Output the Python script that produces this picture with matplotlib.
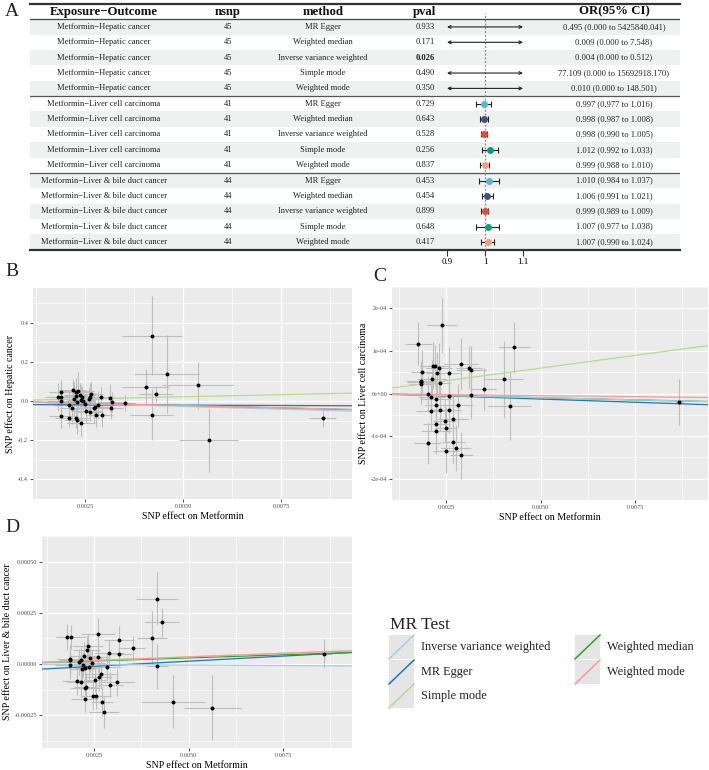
import numpy as np
import matplotlib.pyplot as plt
from matplotlib.patches import Rectangle

plt.rcParams['font.family'] = ['Liberation Serif', 'DejaVu Serif']

W, H = 709, 770

# ---- panel A: MR results table ----
outcomes = (['Metformin\u2212Hepatic cancer'] * 5
            + ['Metformin\u2212Liver cell carcinoma'] * 5
            + ['Metformin\u2212Liver & bile duct cancer'] * 5)
nsnp = [45] * 5 + [41] * 5 + [44] * 5
methods = ['MR Egger', 'Weighted median', 'Inverse variance weighted',
           'Simple mode', 'Weighted mode'] * 3
pvals = ['0.933', '0.171', '0.026', '0.490', '0.350',
         '0.729', '0.643', '0.528', '0.256', '0.837',
         '0.453', '0.454', '0.899', '0.648', '0.417']
or_val = [0.495, 0.009, 0.004, 77.109, 0.010,
          0.997, 0.998, 0.998, 1.012, 0.999,
          1.010, 1.006, 0.999, 1.007, 1.007]
or_lo = [0.000, 0.000, 0.000, 0.000, 0.000,
         0.977, 0.987, 0.990, 0.992, 0.988,
         0.984, 0.991, 0.989, 0.977, 0.990]
or_hi = [5425840.041, 7.548, 0.512, 15692918.170, 148.501,
         1.016, 1.008, 1.005, 1.033, 1.010,
         1.037, 1.021, 1.009, 1.038, 1.024]

forest_cols = {'MR Egger': '#4DBBD5', 'Weighted median': '#3C5488',
               'Inverse variance weighted': '#E64B35', 'Simple mode': '#00A087',
               'Weighted mode': '#F39B7F'}

# ---- scatter panels ----
line_cols = {'Inverse variance weighted': '#A6CEE3', 'MR Egger': '#1F78B4',
             'Simple mode': '#B2DF8A', 'Weighted median': '#33A02C',
             'Weighted mode': '#FB9A99'}

# B: Hepatic cancer
bx = [0.00182, 0.00189, 0.00189, 0.00189, 0.00189, 0.00208, 0.0021, 0.00216, 0.00218, 0.00222,
      0.00226, 0.00227, 0.00233, 0.00229, 0.00226, 0.00229, 0.00237, 0.0024, 0.00243, 0.00239,
      0.00253, 0.00262, 0.00263, 0.00265, 0.00273, 0.00276, 0.00279, 0.00284, 0.00291, 0.00292,
      0.00313, 0.00319, 0.00317, 0.00352, 0.0025, 0.00259, 0.00245, 0.0042, 0.00458, 0.00405,
      0.0043, 0.0042, 0.00537, 0.00565, 0.00856]
by = [0.02, 0.048, 0.023, 0.0, -0.078, -0.085, -0.02, -0.038, 0.054, 0.008,
      0.026, 0.046, 0.049, -0.005, -0.088, -0.097, 0.031, 0.003, 0.023, -0.11,
      -0.05, -0.054, 0.02, 0.038, -0.034, -0.03, -0.072, -0.02, 0.02, -0.072,
      0.018, -0.005, -0.034, -0.011, -0.015, 0.008, 0.002, 0.334, 0.137, 0.072,
      0.035, -0.069, 0.08, -0.2, -0.085]
bsx = [0.00035, 0.0003, 0.0004, 0.00035, 0.0003, 0.00035, 0.0004, 0.0003, 0.00035, 0.0004,
       0.0003, 0.00035, 0.0004, 0.0003, 0.00035, 0.0003, 0.0004, 0.00035, 0.0003, 0.00035,
       0.0004, 0.0003, 0.00035, 0.0003, 0.0004, 0.00035, 0.0003, 0.0004, 0.00035, 0.0003,
       0.0003, 0.00035, 0.0003, 0.00025, 0.0003, 0.00035, 0.0003, 0.00077, 0.00083, 0.0006,
       0.00045, 0.00055, 0.0009, 0.00075, 0.00035]
bsy = [0.07, 0.06, 0.08, 0.1, 0.06, 0.05, 0.07, 0.08, 0.06, 0.09,
       0.05, 0.07, 0.1, 0.06, 0.05, 0.07, 0.06, 0.08, 0.05, 0.07,
       0.06, 0.05, 0.07, 0.06, 0.08, 0.05, 0.06, 0.07, 0.05, 0.06,
       0.07, 0.05, 0.06, 0.04, 0.05, 0.06, 0.05, 0.2, 0.2, 0.09,
       0.04, 0.13, 0.12, 0.16, 0.045]
b_or = [0.495, 0.009, 0.004, 77.109, 0.010]
b_egger_int = -0.0175

# C: Liver cell carcinoma
cx = [0.00239, 0.00177, 0.0043, 0.00186, 0.00183, 0.00183, 0.00183, 0.00216, 0.00221, 0.00231,
      0.00227, 0.00212, 0.00259, 0.00289, 0.00311, 0.00315, 0.00404, 0.0035, 0.00203, 0.00211,
      0.00223, 0.00259, 0.00317, 0.00224, 0.00211, 0.00234, 0.00259, 0.00281, 0.00418, 0.00246,
      0.00269, 0.00223, 0.0025, 0.00223, 0.00201, 0.00269, 0.00276, 0.0025, 0.0029, 0.00867,
      0.00234]
cy = [1.60e-4, 1.17e-4, 1.09e-4, 5.1e-5, 3.0e-5, 2.6e-5, 2.2e-5, 6.5e-5, 6.5e-5, 5.9e-5,
      4.8e-5, 3.3e-5, 4.9e-5, 7.0e-5, 6.1e-5, 5.6e-5, 3.3e-5, 1.1e-5, 0.0, -9e-6,
      -1.3e-5, -6.5e-6, -4e-6, -2.8e-5, -4.1e-5, -3.8e-5, -3.8e-5, -2.8e-5, -2.9e-5, -6.4e-5,
      -5.9e-5, -7.2e-5, -8.2e-5, -8.8e-5, -1.16e-4, -1.14e-4, -1.28e-4, -1.36e-4, -1.45e-4, -2.0e-5,
      2.4e-5]
csx = [0.0004, 0.00035, 0.00042, 0.0003, 0.0004, 0.00035, 0.0003, 0.0003, 0.0004, 0.00035,
       0.0003, 0.0004, 0.0003, 0.00045, 0.00035, 0.0004, 0.0005, 0.00033, 0.0003, 0.00035,
       0.0004, 0.0003, 0.0004, 0.0003, 0.0004, 0.00035, 0.0003, 0.0004, 0.00057, 0.0003,
       0.0004, 0.00035, 0.0003, 0.0004, 0.00035, 0.0003, 0.0004, 0.00035, 0.0003, 0.0001,
       0.0003]
csy = [6.5e-5, 5e-5, 6e-5, 5e-5, 4e-5, 5e-5, 4.5e-5, 5.5e-5, 5e-5, 6e-5,
       5e-5, 4.5e-5, 6e-5, 6e-5, 5e-5, 5.5e-5, 9e-5, 5e-5, 4e-5, 5e-5,
       4.5e-5, 6e-5, 5.5e-5, 5e-5, 4.5e-5, 5e-5, 5.5e-5, 5e-5, 8e-5, 5e-5,
       5.5e-5, 4.5e-5, 5e-5, 5.5e-5, 5e-5, 5e-5, 5.5e-5, 5e-5, 5.5e-5, 5.3e-5,
       4e-5]
c_or = [0.997, 0.998, 0.998, 1.012, 0.999]
c_egger_int = 2e-6

# D: Liver & bile duct cancer
dx = [0.00417, 0.00429, 0.00403, 0.00352, 0.00316, 0.00316, 0.0029, 0.00261, 0.00261, 0.00233,
      0.0023, 0.0024, 0.00223, 0.00215, 0.0021, 0.00179, 0.00188, 0.00186, 0.00186, 0.00186,
      0.00219, 0.00226, 0.00237, 0.00283, 0.00417, 0.00269, 0.00262, 0.00252, 0.00205, 0.00214,
      0.00228, 0.00226, 0.00292, 0.00311, 0.00247, 0.00254, 0.00225, 0.00271, 0.00277, 0.00458,
      0.00563, 0.0086, 0.00221, 0.00244]
dy = [3.19e-4, 2.03e-4, 1.29e-4, 7.8e-5, 1.16e-4, 5.0e-5, 5.3e-5, 1.46e-4, 3.2e-5, 8.8e-5,
      6.9e-5, 2.8e-5, 3.7e-5, 2.2e-5, 1.0e-5, 1.32e-4, 1.31e-4, 2.5e-5, 1.9e-5, -7e-6,
      -2.6e-5, -1.9e-5, -1.5e-5, -1.5e-5, -1.0e-5, -5.1e-5, -6.3e-5, -7.6e-5, -8.4e-5, -9.0e-5,
      -1.1e-4, -1.16e-4, -1.01e-4, -9.0e-5, -1.54e-4, -1.54e-4, -1.72e-4, -1.84e-4, -2.35e-4, -1.84e-4,
      -2.13e-4, 5.1e-5, -3e-6, 3e-6]
dsx = [0.00055, 0.00045, 0.0004, 0.00033, 0.0004, 0.00035, 0.0004, 0.00045, 0.0003, 0.0004,
       0.00035, 0.0003, 0.0004, 0.0003, 0.00035, 0.0003, 0.0004, 0.00035, 0.0003, 0.0004,
       0.00035, 0.0003, 0.0004, 0.00035, 0.0003, 0.0004, 0.00035, 0.0003, 0.0004, 0.00035,
       0.0003, 0.0004, 0.00035, 0.00045, 0.0003, 0.0004, 0.00035, 0.0003, 0.0004, 0.00085,
       0.00075, 0.0002, 0.0003, 0.00035]
dsy = [1.3e-4, 7e-5, 1.3e-4, 6e-5, 7e-5, 6e-5, 6.5e-5, 8e-5, 7e-5, 6e-5,
       7e-5, 6.5e-5, 7e-5, 6e-5, 6.5e-5, 6.5e-5, 6e-5, 7e-5, 6e-5, 6.5e-5,
       7e-5, 6e-5, 6.5e-5, 7e-5, 1.1e-4, 6.5e-5, 7e-5, 6e-5, 6.5e-5, 7e-5,
       6.5e-5, 7e-5, 6e-5, 6.5e-5, 7e-5, 6.5e-5, 6e-5, 7e-5, 7.5e-5, 1.3e-4,
       1.6e-4, 7e-5, 6e-5, 6.5e-5]
d_or = [1.010, 1.006, 0.999, 1.007, 1.007]
d_egger_int = -3.6e-5

mr_methods = ['MR Egger', 'Weighted median', 'Inverse variance weighted', 'Simple mode', 'Weighted mode']
legend_order = ['Inverse variance weighted', 'MR Egger', 'Simple mode', 'Weighted median', 'Weighted mode']

fig = plt.figure(figsize=(W / 100, H / 100), dpi=100)


def px_axes(left, top, right, bottom, **kw):
    return fig.add_axes([left / W, 1 - bottom / H, (right - left) / W, (bottom - top) / H], **kw)


# ---------- table ----------
TL, TR, TT, TB = 30, 680, 3.9, 249.7
tab = px_axes(TL, TT, TR, TB)
tab.set_xlim(TL, TR)
tab.set_ylim(15.5, -0.5)
tab.axis('off')

for k in range(1, 16):
    if k % 2 == 1:
        tab.add_patch(Rectangle((TL, k - 0.5), TR - TL, 1, color='#EDF2F0', lw=0, zorder=0))

tab.axhline(-0.5, color='#333333', lw=1.6, clip_on=False)
tab.axhline(0.5, color='#444444', lw=0.9)
tab.axhline(5.5, color='#555555', lw=0.9)
tab.axhline(10.5, color='#555555', lw=0.9)
tab.axhline(15.5, color='#333333', lw=1.6, clip_on=False)

col_x = {'out': 104, 'nsnp': 228, 'method': 323, 'pval': 425, 'or': 614}
hdr = dict(fontsize=9.2, fontweight='bold', ha='center', va='center', color='#111111')
tab.text(col_x['out'], 0, 'Exposure\u2212Outcome', **hdr)
tab.text(col_x['nsnp'], 0, 'nsnp', **hdr)
tab.text(col_x['method'], 0, 'method', **hdr)
tab.text(col_x['pval'], 0, 'pval', **hdr)
tab.text(col_x['or'], 0, 'OR(95% CI)', **hdr)

body = dict(fontsize=6.1, ha='center', va='center', color='#222222')
for i in range(15):
    r = i + 1
    tab.text(col_x['out'], r, outcomes[i], **body)
    tab.text(col_x['nsnp'], r, str(nsnp[i]), **body)
    tab.text(col_x['method'], r, methods[i], **body)
    bold = 'bold' if float(pvals[i]) < 0.05 else 'normal'
    tab.text(col_x['pval'], r, pvals[i], fontweight=bold, **body)
    tab.text(col_x['or'], r, '%.3f (%.3f to %.3f)' % (or_val[i], or_lo[i], or_hi[i]), **body)

# ---------- forest column ----------
fo = px_axes(447, TT, 523, TB)
fo.patch.set_alpha(0)
fo.set_xlim(0.9, 1.1)
fo.set_ylim(15.5, -0.5)
for s in ['top', 'left', 'right', 'bottom']:
    fo.spines[s].set_visible(False)
fo.set_yticks([])
fo.set_xticks([0.9, 1.0, 1.1])
fo.set_xticklabels(['0.9', '1', '1.1'])
fo.tick_params(axis='x', length=4, width=0.8, color='#333333', labelsize=6.5, pad=2)
fo.axvline(1, ymin=0, ymax=1 - 0.6 / 16, color='#888888', lw=0.9, ls=(0, (1.5, 1.5)), zorder=1)

xmin, xmax = 0.9, 1.1
for i in range(15):
    r = i + 1
    if or_hi[i] < xmin or or_lo[i] > xmax:
        continue
    lo, hi = max(or_lo[i], xmin), min(or_hi[i], xmax)
    if or_lo[i] < xmin or or_hi[i] > xmax:
        style = ('<' if or_lo[i] < xmin else '-') + '-' + ('>' if or_hi[i] > xmax else '')
        fo.annotate('', xy=(hi, r), xytext=(lo, r),
                    arrowprops=dict(arrowstyle='<->' if style == '<->' else style.replace('--', '-'),
                                    color='#222222', lw=0.8, mutation_scale=5, shrinkA=0, shrinkB=0))
    else:
        fo.errorbar(or_val[i], r, xerr=[[or_val[i] - lo], [hi - or_val[i]]], fmt='none',
                    ecolor='#222222', elinewidth=0.8, capsize=2, capthick=0.8, zorder=2)
    if xmin <= or_val[i] <= xmax:
        fo.plot(or_val[i], r, 'o', color=forest_cols[methods[i]], ms=5, mec='none', zorder=3)


# ---------- scatter panels ----------
def mr_panel(ax, x, y, sx, sy, ors, egger_int, ylab, yticks, yticklabels, xlim, ylim):
    ax.set_facecolor('#EBEBEB')
    ax.set_axisbelow(True)
    ax.errorbar(x, y, xerr=sx, yerr=sy, fmt='none', ecolor='#BEBEBE', elinewidth=0.8, zorder=2)
    ax.scatter(x, y, s=8, color='black', zorder=4, linewidths=0)
    xs = np.array(xlim)
    for m, o in zip(mr_methods, ors):
        b = np.log(o)
        a = egger_int if m == 'MR Egger' else 0.0
        ax.plot(xs, a + b * xs, color=line_cols[m], lw=0.9, zorder=3)
    ax.set_xlim(xlim)
    ax.set_ylim(ylim)
    xt = [0.0025, 0.0050, 0.0075]
    ax.set_xticks(xt)
    ax.set_xticklabels(['0.0025', '0.0050', '0.0075'])
    ax.set_xticks([0.00125, 0.00375, 0.00625, 0.00875], minor=True)
    ax.set_yticks(yticks)
    ax.set_yticklabels(yticklabels)
    step = yticks[1] - yticks[0]
    ax.set_yticks([t + step / 2 for t in [yticks[0] - step] + list(yticks)], minor=True)
    ax.grid(which='major', color='white', lw=0.9)
    ax.grid(which='minor', color='white', lw=0.45)
    for s in ax.spines.values():
        s.set_visible(False)
    ax.tick_params(which='major', labelsize=4.5, length=2, width=0.6, color='#333333',
                   labelcolor='#4D4D4D', pad=1.5)
    ax.tick_params(which='minor', length=0)
    ax.set_xlabel('SNP effect on Metformin', fontsize=7.2, labelpad=2)
    ax.set_ylabel(ylab, fontsize=7.2, labelpad=2)


axB = px_axes(33, 288, 352, 499)
mr_panel(axB, bx, by, bsx, bsy, b_or, b_egger_int, 'SNP effect on Hepatic cancer',
         [-0.4, -0.2, 0.0, 0.2, 0.4], ['-0.4', '-0.2', '0.0', '0.2', '0.4'],
         (0.00117, 0.00931), (-0.405, 0.577))

axC = px_axes(392, 287, 708, 500)
mr_panel(axC, cx, cy, csx, csy, c_or, c_egger_int, 'SNP effect on Liver cell carcinoma',
         [-2e-4, -1e-4, 0.0, 1e-4, 2e-4], ['-2e-04', '-1e-04', '0e+00', '1e-04', '2e-04'],
         (0.00107, 0.00943), (-2.2e-4, 2.43e-4))

axD = px_axes(42, 536, 352, 748)
mr_panel(axD, dx, dy, dsx, dsy, d_or, d_egger_int, 'SNP effect on Liver & bile duct cancer',
         [-0.00025, 0.0, 0.00025, 0.0005], ['-0.00025', '0.00000', '0.00025', '0.00050'],
         (0.00112, 0.00933), (-0.00041, 0.000522))

# ---------- legend ----------
lg = px_axes(380, 610, 709, 715)
lg.set_xlim(380, 709)
lg.set_ylim(715, 610)
lg.axis('off')
lg.text(390, 625, 'MR Test', fontsize=12.5, va='center', ha='left', color='#222222')
key_pos = [(389, 647), (389, 672), (389, 696), (575, 647), (575, 672)]
for m, (kx, ky) in zip(legend_order, key_pos):
    lg.add_patch(Rectangle((kx, ky - 12), 25, 24, color='#E5E5E5', lw=0))
    lg.plot([kx, kx + 25], [ky + 12, ky - 12], color=line_cols[m], lw=1.1)
    lg.text(kx + 32, ky, m, fontsize=8.8, va='center', ha='left', color='#222222')

# panel letters
for lab, lx, ly in [('A', 12, 12), ('B', 12, 272), ('C', 380, 277), ('D', 12, 527)]:
    fig.text(lx / W, 1 - ly / H, lab, fontsize=14, ha='center', va='center', color='#222222')

fig.savefig('out.png', dpi=100)
